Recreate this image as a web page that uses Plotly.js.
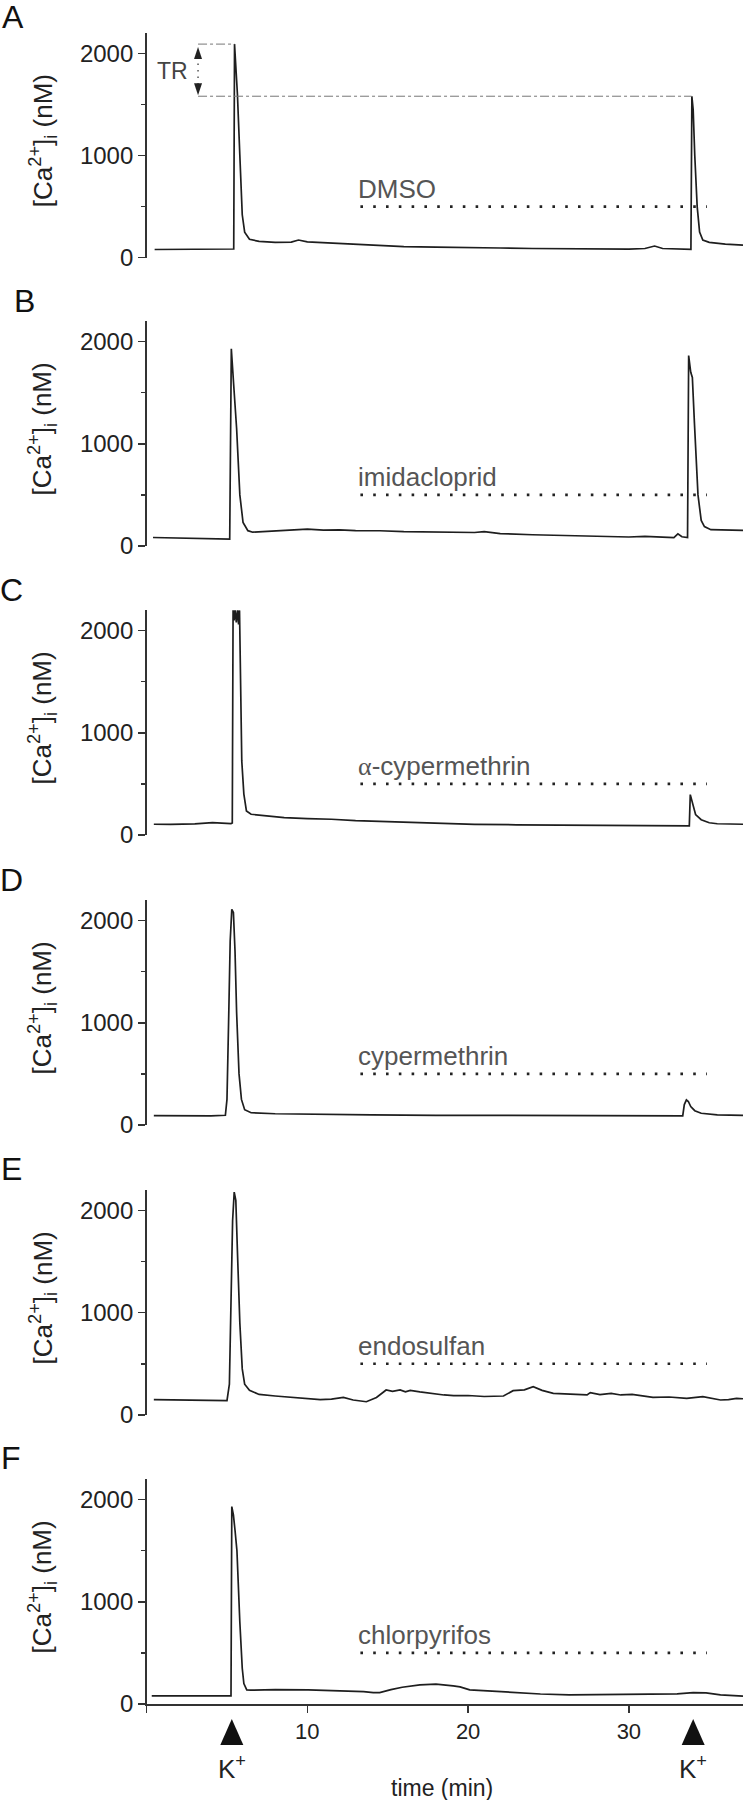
<!DOCTYPE html>
<html><head><meta charset="utf-8">
<script src="https://cdn.plot.ly/plotly-3.0.1.min.js"></script>
<style>html,body{margin:0;padding:0;background:#fff}</style>
</head><body><div id="chart" style="width:743px;height:1800px"></div>
<script>
// ---- data (time in min, [Ca2+]i in nM) ----
const panelLetters = ['A','B','C','D','E','F'];
const treatments = ['DMSO','imidacloprid','<span style="font-family:Liberation Serif">α</span>-cypermethrin','cypermethrin','endosulfan','chlorpyrifos'];

const tA = [0.5,1.5,3.0,4.5,5.42,5.47,5.55,5.65,5.8,5.95,6.1,6.4,7,8,9,9.45,10,12,14,16,18,20.3,22,24,26.3,28,30,31,31.6,32.1,33,33.86,33.92,34.0,34.1,34.25,34.4,34.6,35,36,37.1];
const cA = [80,82,80,83,85,2090,1870,1600,1000,420,250,180,160,150,152,173,155,141,125,108,103,102,95,90,85,84,83,90,114,90,84,82,1580,1450,1000,500,250,173,150,132,124];

const tB = [0.4,1.5,3,4.5,5.17,5.27,5.35,5.42,5.6,5.8,6.0,6.3,6.6,7.5,8.5,9.5,10,11,12,13,14.5,16,18,20.4,21,22,24,26.3,28,30,31,32,32.8,33.05,33.3,33.65,33.72,33.85,33.95,34.08,34.3,34.5,34.7,35.1,36,36.5,37.1];
const cB = [83,80,74,68,67,1930,1700,1570,1150,500,230,150,135,143,150,160,165,155,158,150,149,140,135,132,140,122,110,99,92,88,95,86,83,119,90,83,1864,1700,1650,1200,500,250,190,160,155,150,152];

const tC = [0.45,1.5,3,4.1,5.25,5.33,5.38,5.44,5.5,5.58,5.66,5.72,5.78,5.86,5.92,6.05,6.21,6.5,7.5,8.56,10,11.5,13,14,15.9,18,20.4,23,26.3,30,33.35,33.76,33.82,33.92,34.0,34.15,34.5,35,35.5,37.1];
const cC = [105,103,108,121,112,118,2210,2100,2210,2080,2210,2060,2200,1300,725,400,235,203,185,170,160,154,140,135,121,110,104,100,98,93,88,90,395,330,290,200,150,120,110,105];

const tD = [0.45,2,4,4.9,5.0,5.1,5.2,5.3,5.4,5.5,5.6,5.75,5.9,6.1,6.5,8,10,14,18,22,26,30,33.35,33.45,33.58,33.7,33.85,34.1,34.5,35.5,37.1];
const cD = [92,90,90,95,250,1000,1800,2110,2080,1700,1100,500,250,150,120,110,105,100,95,95,92,90,90,200,245,230,180,140,115,100,95];

const tE = [0.45,2,4,5.0,5.15,5.25,5.35,5.45,5.55,5.65,5.8,5.95,6.1,6.4,7,8,9,10,10.8,11.5,12.24,12.85,13.67,14.3,14.9,15.3,15.77,16.1,16.4,17.0,17.6,18.5,19.1,20,21,22.2,22.8,23.5,24.05,24.6,25.3,26.5,27.4,27.6,28.2,28.9,29.5,30.2,31,31.5,32.5,33.6,34.6,35.2,35.7,36.2,36.7,37.1];
const cE = [150,148,145,140,300,1200,1900,2180,2100,1600,900,450,300,240,200,185,175,165,150,155,172,146,129,170,244,230,244,225,240,225,211,195,188,190,180,185,237,245,276,240,211,200,195,218,198,210,195,200,180,172,175,162,179,160,146,150,162,158];

const tF = [0.32,2,4,5.25,5.3,5.4,5.5,5.62,5.8,5.95,6.05,6.23,6.5,8,10.05,12,13.5,14.1,14.5,15.2,15.9,17,18,19.07,19.5,20.1,21,22,23.2,24.5,26.3,28,29.2,30.5,32.2,33,34,34.8,35.7,36.9,37.1];
const cF = [79,80,79,80,1932,1850,1700,1500,800,350,200,138,135,140,138,130,122,112,112,140,164,187,194,178,168,138,130,118,105,98,89,92,94,95,98,100,112,108,89,79,78];

const treatStart = 13.3, treatEnd = 34.85, treatLevel = 500;
const kTimes = [5.3, 34.0];
const xTickVals = [0,10,20,30];
const xTickText = ['','10','20','30'];
const yTickVals = [0,1000,2000];
const trX = 3.2, trTop = 2090, trBottom = 1580, trTopEnd = 5.47, trBottomEnd = 33.9;

// ---- layout constants ----
const W = 743, H = 1800;
const plotLeft = 146.6;
const zeroPx = [257.7, 546, 835, 1125, 1414.9, 1704];
const yMax = 2200, pxPer1000 = 102.2;
const spanPx = yMax/1000*pxPer1000;
const FONT = 'Liberation Sans, Arial, Helvetica, sans-serif';
const INK = '#1e1e1e';

const times = [tA,tB,tC,tD,tE,tF];
const vals = [cA,cB,cC,cD,cE,cF];

const traces = [];
const layout = {
  width: W, height: H, margin:{l:0,r:0,t:0,b:0},
  paper_bgcolor:'#fff', plot_bgcolor:'rgba(0,0,0,0)',
  showlegend:false, font:{family:FONT, color:INK},
  xaxis:{domain:[plotLeft/W,1], range:[0,37.1], anchor:'y6', showline:true, linecolor:'#333', linewidth:1.5,
    ticks:'outside', ticklen:7, tickwidth:1.5, tickcolor:'#333', tickvals:xTickVals, ticktext:xTickText,
    tickfont:{size:22, family:FONT, color:'#222'}, showgrid:false, zeroline:false, fixedrange:true},
  annotations:[], shapes:[]
};

for (let i=0;i<6;i++){
  const yname = i===0 ? 'y' : 'y'+(i+1);
  const key = i===0 ? 'yaxis' : 'yaxis'+(i+1);
  const bottom = (H - zeroPx[i])/H;
  layout[key] = {domain:[bottom, bottom + spanPx/H], range:[0,yMax], anchor:'x',
    showline:true, linecolor:'#333', linewidth:1.5, ticks:'outside', ticklen:7, tickwidth:1.5, tickcolor:'#333',
    tickvals:yTickVals, tickfont:{size:24, family:FONT, color:'#222'},
    minor:{dtick:500, ticks:'outside', ticklen:4, tickwidth:1.5, tickcolor:'#333', showgrid:false},
    showgrid:false, zeroline:false, fixedrange:true};
  traces.push({x:times[i], y:vals[i], xaxis:'x', yaxis:yname, mode:'lines',
    line:{color:INK, width:1.7}, hoverinfo:'skip'});
  // treatment bar (dotted)
  traces.push({x:[treatStart, treatEnd], y:[treatLevel, treatLevel], xaxis:'x', yaxis:yname, mode:'lines',
    line:{color:'#222', width:2.6, dash:'2.6px,10.2px'}, hoverinfo:'skip'});
  layout.annotations.push({xref:'x', yref:yname, x:13.1, y:treatLevel+20, xanchor:'left', yanchor:'bottom',
    text:treatments[i], showarrow:false, borderpad:0, font:{size:26, family:FONT, color:'#555'}});
  // y title
  layout.annotations.push({xref:'paper', yref:yname, x:43/W, y:1140, xanchor:'center', yanchor:'middle',
    textangle:-90, text:'[Ca<sup>2+</sup>]<sub>i</sub> (nM)', showarrow:false, font:{size:26, family:FONT, color:'#222'}});
}

// panel letters
const letterX = [12.5, 24.5, 11, 11, 11, 11];
const letterY = [17.5, 301, 590, 880, 1169, 1458];
panelLetters.forEach((L,i)=>{
  layout.annotations.push({xref:'paper', yref:'paper', x:letterX[i]/W, y:1-letterY[i]/H, xanchor:'center', yanchor:'middle',
    text:L, showarrow:false, font:{size:32, family:FONT, color:'#111'}});
});

// TR marker (panel A)
traces.push({x:[trX, trTopEnd], y:[trTop, trTop], xaxis:'x', yaxis:'y', mode:'lines', line:{color:'#777', width:1, dash:'dashdot'}, hoverinfo:'skip'});
traces.push({x:[trX, trBottomEnd], y:[trBottom, trBottom], xaxis:'x', yaxis:'y', mode:'lines', line:{color:'#777', width:1, dash:'dashdot'}, hoverinfo:'skip'});
traces.push({x:[trX, trX], y:[trTop-190, trBottom+120], xaxis:'x', yaxis:'y', mode:'lines', line:{color:'#555', width:1.5, dash:'1.5px,5px'}, hoverinfo:'skip'});
layout.shapes.push({type:'path', xref:'x', yref:'y', xsizemode:'pixel', ysizemode:'pixel', xanchor:trX, yanchor:trTop,
  path:'M-4,-15 L4,-15 L0,-3 Z', fillcolor:'#222', line:{width:0}});
layout.shapes.push({type:'path', xref:'x', yref:'y', xsizemode:'pixel', ysizemode:'pixel', xanchor:trX, yanchor:trBottom,
  path:'M-4,13 L4,13 L0,1 Z', fillcolor:'#222', line:{width:0}});
layout.annotations.push({xref:'x', yref:'y', x:1.58, y:1822, xanchor:'center', yanchor:'middle', text:'TR', showarrow:false,
  font:{size:23, family:FONT, color:'#444'}});

// K+ markers (below the time axis)
const axisPaperY = (H - zeroPx[5])/H;
kTimes.forEach(t=>{
  layout.shapes.push({type:'path', xref:'x', yref:'paper', xsizemode:'pixel', ysizemode:'pixel', xanchor:t, yanchor:axisPaperY,
    path:'M-11.5,-41 L11.5,-41 L0,-15 Z', fillcolor:'#111', line:{width:0}});
  layout.annotations.push({xref:'x', yref:'y6', x:t, y:0, yshift:-63, xanchor:'center', yanchor:'middle',
    text:'K<sup>+</sup>', showarrow:false, font:{size:26, family:FONT, color:'#222'}});
});
layout.annotations.push({xref:'x', yref:'y6', x:18.4, y:0, yshift:-84, xanchor:'center', yanchor:'middle',
  text:'time (min)', showarrow:false, font:{size:23, family:FONT, color:'#222'}});

Plotly.newPlot('chart', traces, layout, {staticPlot:true, displayModeBar:false});
</script></body></html>
